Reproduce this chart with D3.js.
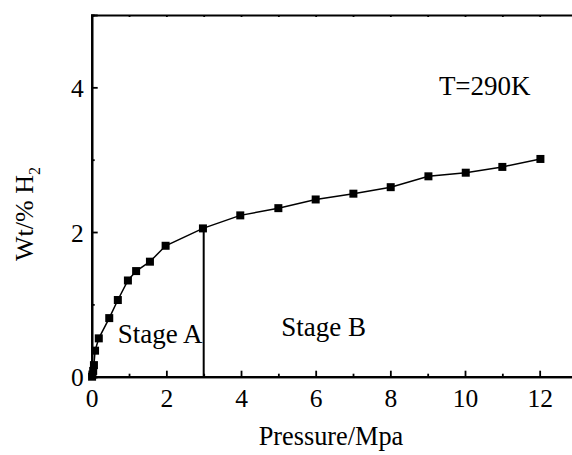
<!DOCTYPE html>
<html><head><meta charset="utf-8">
<script src="https://cdn.jsdelivr.net/npm/d3@7"></script>
<style>body{margin:0;background:#fff}svg{display:block}svg text{font-family:"Liberation Serif","DejaVu Serif",serif !important;fill:#000}</style>
</head><body>
<script>
const pressure = [0.01,0.02,0.04,0.06,0.09,0.19,0.47,0.70,0.97,1.19,1.56,1.98,2.98,3.98,5.0,6.0,7.01,8.01,9.02,10.02,11.0,12.02];
const wt =       [0.00,0.03,0.08,0.16,0.36,0.53,0.81,1.06,1.33,1.46,1.59,1.81,2.05,2.23,2.33,2.45,2.53,2.62,2.77,2.82,2.90,3.01];
const xTicks = [0,2,4,6,8,10,12];
const yTicks = [0,2,4];
const xMinor = [1,3,5,7,9,11,13];
const yMinor = [1,3];
const divider = 3;
const labels = [{t:"Stage A", x:0.7, y:0.47, fs:27},{t:"Stage B", x:5.08, y:0.56, fs:27},{t:"T=290K", x:9.3, y:3.9, fs:27}];

const W=572,H=455;
const svg=d3.select("body").append("svg").attr("width",W).attr("height",H);
const x=d3.scaleLinear().domain([0,13]).range([91.7,577]);
const y=d3.scaleLinear().domain([0,5]).range([376.7,15]);

const gx=svg.append("g").attr("transform",`translate(0,${y(0)})`)
  .call(d3.axisBottom(x).tickValues(xTicks).tickSize(-6).tickPadding(12).tickFormat(d3.format("d")));
const gxm=svg.append("g").attr("transform",`translate(0,${y(0)})`)
  .call(d3.axisBottom(x).tickValues(xMinor).tickSize(-3).tickFormat(""));
const gy=svg.append("g").attr("transform",`translate(${x(0)},0)`)
  .call(d3.axisLeft(y).tickValues(yTicks).tickSize(-6).tickPadding(8).tickFormat(d3.format("d")));
const gym=svg.append("g").attr("transform",`translate(${x(0)},0)`)
  .call(d3.axisLeft(y).tickValues(yMinor).tickSize(-3).tickFormat(""));
const gt=svg.append("g").attr("transform",`translate(0,${y(5)})`)
  .call(d3.axisTop(x).tickValues(d3.range(0,14)).tickSize(-2).tickFormat(""));
[gx,gxm,gy,gym,gt].forEach(g=>{
  g.attr("font-family",null);
  g.select(".domain").attr("stroke","#000").attr("stroke-width",2.2);
  g.selectAll(".tick line").attr("stroke","#000").attr("stroke-width",1.8);
  g.selectAll(".tick text").attr("font-size",25.5).attr("fill","#000");
});
gx.selectAll(".tick text").attr("dy","0.71em");
gy.selectAll(".tick text").attr("dy","0.36em");

svg.append("line").attr("x1",x(divider)).attr("x2",x(divider))
  .attr("y1",y(0)).attr("y2",y(wt[pressure.indexOf(2.98)]))
  .attr("stroke","#000").attr("stroke-width",2);

svg.append("path").datum(pressure.map((p,i)=>[p,wt[i]]))
  .attr("d",d3.line().x(d=>x(d[0])).y(d=>y(d[1])))
  .attr("fill","none").attr("stroke","#000").attr("stroke-width",1.5);
const s=8;
svg.selectAll("rect.pt").data(pressure.map((p,i)=>[p,wt[i]])).enter().append("rect")
  .attr("class","pt").attr("x",d=>x(d[0])-s/2).attr("y",d=>y(d[1])-s/2)
  .attr("width",s).attr("height",s).attr("fill","#000");

svg.selectAll("text.lab").data(labels).enter().append("text").attr("class","lab")
  .attr("x",d=>x(d.x)).attr("y",d=>y(d.y)).attr("font-size",d=>d.fs).text(d=>d.t);

svg.append("text").attr("x",331).attr("y",445).attr("text-anchor","middle").attr("font-size",26.3).text("Pressure/Mpa");
const yt=svg.append("text").attr("transform","translate(33,214) rotate(-90)").attr("text-anchor","middle").attr("font-size",26);
yt.append("tspan").text("Wt/% H");
yt.append("tspan").attr("font-size",16).attr("dy",7).text("2");
</script>
</body></html>
